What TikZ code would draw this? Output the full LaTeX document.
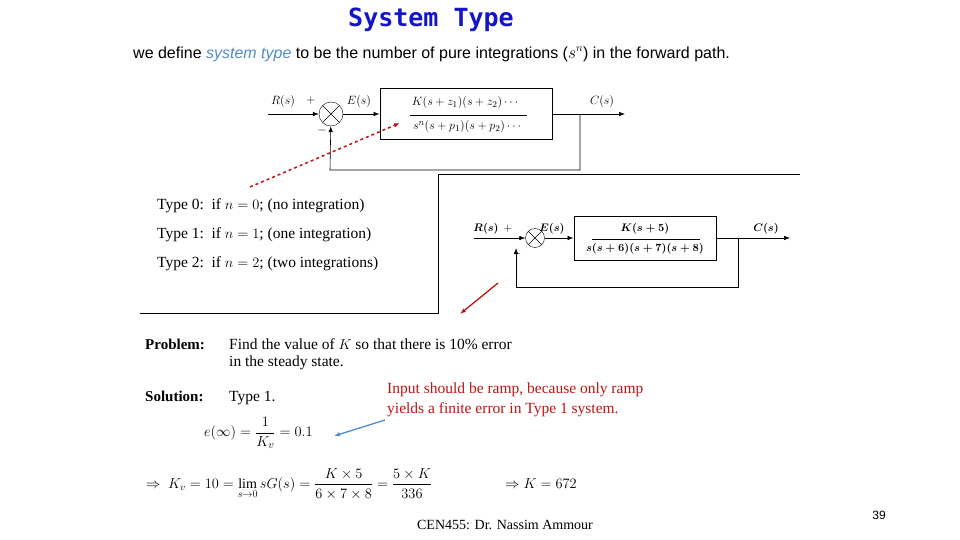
\documentclass[tikz,border=0pt]{standalone}
\usepackage{amsmath}
\usepackage{fontspec}
\setmainfont{Liberation Serif}
\newfontfamily\arialf{Liberation Sans}
\newfontfamily\titlef{DejaVu Sans Mono}
\usetikzlibrary{arrows.meta}
\definecolor{ttl}{RGB}{20,20,200}
\definecolor{dred}{RGB}{190,20,20}
\definecolor{lblue}{RGB}{80,140,200}
\begin{document}
\begin{tikzpicture}[x=1pt,y=-1pt,
  blk/.style={draw,line width=1pt,minimum width=#1,minimum height=50pt},
  sumj/.style={draw,circle,minimum size=#1,inner sep=0pt,path picture={\draw (path picture bounding box.north west)--(path picture bounding box.south east) (path picture bounding box.north east)--(path picture bounding box.south west);}},
  sig/.style={line width=0.6pt},
  tip/.style={-{Latex[length=6pt,width=4.5pt]}},
  lab/.style={font=\fontsize{13}{15}\selectfont, inner sep=0pt},
  slab/.style={font=\fontsize{11}{13}\selectfont, inner sep=0pt},
  body/.style={font=\fontsize{15.5}{17}\selectfont, anchor=west, inner sep=0pt}]
\useasboundingbox (0,0) rectangle (960,540);
\node[font=\titlef\fontsize{25}{28}\selectfont\bfseries,text=ttl] (title) at (431,20) {System Type};
\node[font=\arialf\fontsize{16}{18}\selectfont,anchor=west,inner sep=0pt] (def) at (133,54) {we define \textcolor{lblue}{\itshape system type} to be the number of pure integrations ($s^{n}$) in the forward path.};
% top diagram
\node[sumj=24pt] (s1) at (331,114) {};
\node[blk=172pt,minimum height=51pt] (g1) at (466,114) {};
\node (num1) at (466,103) {\fontsize{13}{15}\selectfont $K(s+z_1)(s+z_2)\cdots$};
\node (den1) at (468,127) {\fontsize{13}{15}\selectfont $s^{n}(s+p_1)(s+p_2)\cdots$};
\draw[sig] (410,115)--(527,115);
\coordinate (in1) at (268,114);
\coordinate (out1) at (625,114);
\coordinate (tap1) at (580,114);
\draw[sig,tip] (in1)--(s1);
\draw[sig,tip] (s1)--(g1);
\draw[sig,tip] (g1)--(out1);
\draw[sig,tip] (tap1)--(580,170)--(330,170)--(s1);
\node[lab] at (283,102) {$R(s)$};
\node[lab] at (359,102) {$E(s)$};
\node[lab] at (602,102) {$C(s)$};
\node[lab] at (311,101) {$+$};
\node[lab] at (322,131) {$-$};
\coordinate (dsA) at (250,187);
\coordinate (dsB) at (400,123);
\draw[dred,line width=1.5pt,dashed,-{Latex[length=6pt]}] (dsA)--(dsB);
% frame
\draw[line width=1pt] (140,313)--(438,313)--(438,175)--(800,175);
\node[body] (t0) at (157,206) {Type 0:\ \ if $n=0$; (no integration)};
\node[body] (t1) at (157,235) {Type 1:\ \ if $n=1$; (one integration)};
\node[body] (t2) at (157,264) {Type 2:\ \ if $n=2$; (two integrations)};
% second diagram
\node[sumj=19pt] (s2) at (535,238) {};
\node[blk=142pt,minimum height=44pt] (g2) at (645,238) {};
\node (num2) at (645,229) {\fontsize{11}{13}\selectfont $\boldsymbol{K(s+5)}$};
\node (den2) at (645,249) {\fontsize{11}{13}\selectfont $\boldsymbol{s(s+6)(s+7)(s+8)}$};
\draw[sig] (592,239)--(700,239);
\coordinate (in2) at (474,238);
\coordinate (out2) at (790,238);
\coordinate (tap2) at (738,238);
\draw[sig,tip] (in2)--(s2);
\draw[sig,tip] (s2)--(g2);
\draw[sig,tip] (g2)--(out2);
\draw[sig,tip] (tap2)--(738,287)--(516,287)--(516,248);
\node[slab] at (486,229) {$\boldsymbol{R(s)}$};
\node[slab] at (552,229) {$\boldsymbol{E(s)}$};
\node[slab] at (766,229) {$\boldsymbol{C(s)}$};
\node[slab] at (508,229) {$+$};
\node[slab] at (517,254) {$-$};
\coordinate (ra) at (498,283);
\coordinate (rb) at (460,314);
\draw[dred,line width=1.3pt,-{Latex[length=6pt]}] (ra)--(rb);
% problem
\node[body,font=\fontsize{15}{17}\selectfont\bfseries] (pl) at (145,344) {Problem:};
\node[body] (p1) at (229,344) {Find the value of $K$ so that there is 10\% error};
\node[body] (p2) at (229,363) {in the steady state.};
\node[body,font=\fontsize{15}{17}\selectfont\bfseries] (sl) at (145,396) {Solution:};
\node[body] (s1t) at (229,398) {Type 1.};
\node[body,text=dred] (r1) at (387,390) {Input should be ramp, because only ramp};
\node[body,text=dred] (r2) at (387,410) {yields a finite error in Type 1 system.};
\coordinate (ba) at (385,420);
\coordinate (bb) at (334,436);
\draw[lblue,line width=1.3pt,-{Latex[length=6pt]}] (ba)--(bb);
\node[anchor=west,inner sep=0pt] (eq1) at (204,433) {\fontsize{15}{17}\selectfont $e(\infty)=\dfrac{1}{K_v}=0.1$};
\node[anchor=west,inner sep=0pt] (eq2) at (146,484) {\fontsize{14}{16}\selectfont $\Rightarrow\ K_v=10=\lim\limits_{s\to 0} sG(s)=\dfrac{K\times 5}{6\times7\times8}=\dfrac{5\times K}{336}$};
\node[anchor=west,inner sep=0pt] (eq3) at (505,484) {\fontsize{14}{16}\selectfont $\Rightarrow K=672$};
\node[font=\fontsize{14}{16}\selectfont] (foot) at (505,525) {CEN455: Dr. Nassim Ammour};
\node[font=\arialf\fontsize{12}{14}\selectfont] (pg) at (879,515) {39};
\end{tikzpicture}
\end{document}
